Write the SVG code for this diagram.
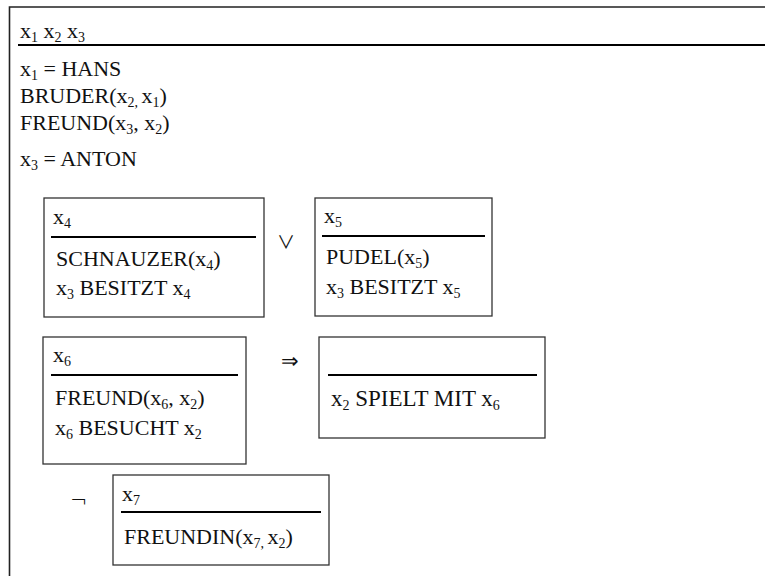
<svg xmlns="http://www.w3.org/2000/svg" width="765" height="576" viewBox="0 0 765 576">
  <style>
    .t { font-family: 'Liberation Serif', 'DejaVu Serif', serif; font-size: 22px; fill: #111; }
    .sub { font-size: 14px; }
    .box { fill: none; stroke: #333; stroke-width: 1.3; }
    .rule { stroke: #000; stroke-width: 2; }
    .op { font-family: 'DejaVu Sans', sans-serif; font-size: 21px; font-weight: 200; fill: #111; }
    .or { font-family: 'Noto Sans CJK JP', 'DejaVu Sans', sans-serif; font-size: 18px; font-weight: 400; fill: #111; }
  </style>

  <!-- main DRS -->
  <g id="drs-main" class="t">
    <path d="M9.5 600 V7 H770" fill="none" stroke="#222" stroke-width="1.6"/>
    <text x="20" y="38">x<tspan class="sub" dy="4">1</tspan><tspan dy="-4"> x</tspan><tspan class="sub" dy="4">2</tspan><tspan dy="-4"> x</tspan><tspan class="sub" dy="4">3</tspan></text>
    <line class="rule" x1="18" y1="45" x2="765" y2="45"/>
    <text x="20" y="76">x<tspan class="sub" dy="4">1</tspan><tspan dy="-4"> = HANS</tspan></text>
    <text x="20" y="103">BRUDER(x<tspan class="sub" dy="4">2, </tspan><tspan dy="-4">x</tspan><tspan class="sub" dy="4">1</tspan><tspan dy="-4">)</tspan></text>
    <text x="20" y="130">FREUND(x<tspan class="sub" dy="4">3</tspan><tspan dy="-4">, x</tspan><tspan class="sub" dy="4">2</tspan><tspan dy="-4">)</tspan></text>
    <text x="20" y="166">x<tspan class="sub" dy="4">3</tspan><tspan dy="-4"> = ANTON</tspan></text>
  </g>

  <!-- disjunction: x4 -->
  <g id="drs-x4" class="t">
    <rect class="box" x="44" y="198" width="220" height="119"/>
    <text x="53" y="224">x<tspan class="sub" dy="4">4</tspan></text>
    <line class="rule" x1="51" y1="237" x2="256" y2="237"/>
    <text x="56" y="266">SCHNAUZER(x<tspan class="sub" dy="4">4</tspan><tspan dy="-4">)</tspan></text>
    <text x="56" y="295">x<tspan class="sub" dy="4">3</tspan><tspan dy="-4"> BESITZT x</tspan><tspan class="sub" dy="4">4</tspan></text>
  </g>

  <!-- disjunction: x5 -->
  <g id="drs-x5" class="t">
    <rect class="box" x="315" y="198" width="177" height="118"/>
    <text x="324" y="223">x<tspan class="sub" dy="4">5</tspan></text>
    <line class="rule" x1="322" y1="236" x2="485" y2="236"/>
    <text x="326" y="264">PUDEL(x<tspan class="sub" dy="4">5</tspan><tspan dy="-4">)</tspan></text>
    <text x="326" y="294">x<tspan class="sub" dy="4">3</tspan><tspan dy="-4"> BESITZT x</tspan><tspan class="sub" dy="4">5</tspan></text>
  </g>

  <!-- conditional: antecedent x6 -->
  <g id="drs-x6" class="t">
    <rect class="box" x="43" y="337" width="203" height="127"/>
    <text x="53" y="362">x<tspan class="sub" dy="4">6</tspan></text>
    <line class="rule" x1="51" y1="375" x2="238" y2="375"/>
    <text x="55" y="405">FREUND(x<tspan class="sub" dy="4">6</tspan><tspan dy="-4">, x</tspan><tspan class="sub" dy="4">2</tspan><tspan dy="-4">)</tspan></text>
    <text x="55" y="435">x<tspan class="sub" dy="4">6</tspan><tspan dy="-4"> BESUCHT x</tspan><tspan class="sub" dy="4">2</tspan></text>
  </g>

  <!-- conditional: consequent -->
  <g id="drs-consequent" class="t">
    <rect class="box" x="319" y="337" width="226" height="101"/>
    <line class="rule" x1="328" y1="375" x2="537" y2="375"/>
    <text x="331" y="406" font-size="23">x<tspan class="sub" dy="4">2</tspan><tspan dy="-4"> SPIELT MIT x</tspan><tspan class="sub" dy="4">6</tspan></text>
  </g>

  <!-- negation: x7 -->
  <g id="drs-x7" class="t">
    <rect class="box" x="113" y="475" width="216" height="90"/>
    <text x="122" y="501">x<tspan class="sub" dy="4">7</tspan></text>
    <line class="rule" x1="121" y1="512" x2="321" y2="512"/>
    <text x="124" y="544">FREUNDIN(x<tspan class="sub" dy="4">7, </tspan><tspan dy="-4">x</tspan><tspan class="sub" dy="4">2</tspan><tspan dy="-4">)</tspan></text>
  </g>

  <!-- logical operators between sub-boxes -->
  <g id="operators">
    <text class="or" x="277" y="249">∨</text>
    <text class="op" x="281" y="368">⇒</text>
    <text class="op" x="70" y="508">¬</text>
  </g>
</svg>
